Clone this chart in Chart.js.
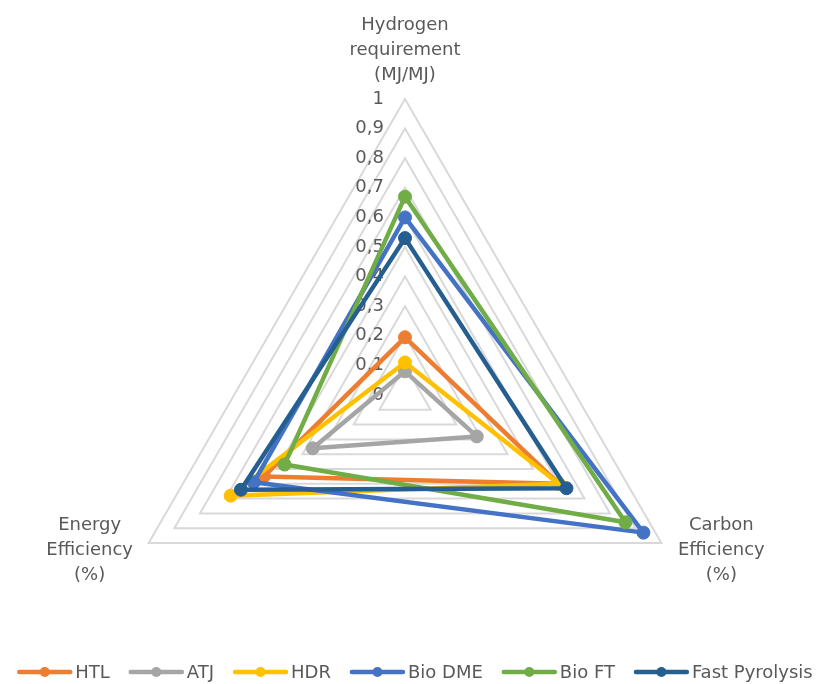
<!DOCTYPE html>
<html>
<head>
<meta charset="utf-8">
<script src="https://cdn.jsdelivr.net/npm/chart.js@4/dist/chart.umd.min.js"></script>
<style>
  html, body { margin: 0; padding: 0; background: #ffffff; }
  #wrap { width: 821px; height: 684px; position: relative; }
</style>
</head>
<body>
<div id="wrap"><canvas id="c" width="821" height="684"></canvas></div>
<script>
// ---- data ----
const categories = [
  ['Hydrogen', 'requirement', '(MJ/MJ)'],
  ['Carbon', 'Efficiency', '(%)'],
  ['Energy', 'Efficiency', '(%)']
];
const tickLabels = ['0', '0,1', '0,2', '0,3', '0,4', '0,5', '0,6', '0,7', '0,8', '0,9', '1'];
const seriesNames = ['HTL', 'ATJ', 'HDR', 'Bio DME', 'Bio FT', 'Fast Pyrolysis'];
const htl = [0.195, 0.60, 0.55];
const atj = [0.08, 0.28, 0.36];
const hdr = [0.11, 0.60, 0.68];
const bioDme = [0.60, 0.93, 0.59];
const bioFt = [0.67, 0.86, 0.47];
const fastPyrolysis = [0.53, 0.63, 0.64];

// ---- styles ----
const seriesValues = [htl, atj, hdr, bioDme, bioFt, fastPyrolysis];
const colors = ['#ED7D31', '#A5A5A5', '#FFC000', '#4472C4', '#70AD47', '#255E91'];
const TEXT = '#595959';
const FONT = '18px "DejaVu Sans", sans-serif';

const datasets = seriesNames.map((name, i) => ({
  label: name,
  data: seriesValues[i],
  borderColor: colors[i],
  backgroundColor: colors[i],
  pointBackgroundColor: colors[i],
  pointBorderColor: colors[i],
  borderWidth: 4.5,
  pointRadius: 6.5,
  pointBorderWidth: 1,
  fill: false,
  tension: 0,
  order: seriesNames.length - i
}));

const labelPlugin = {
  id: 'labelPlugin',
  beforeDatasetsDraw(chart) {
    const s = chart.scales.r;
    const ctx = chart.ctx;
    ctx.save();
    ctx.font = FONT;
    ctx.fillStyle = TEXT;
    ctx.textAlign = 'right';
    ctx.textBaseline = 'middle';
    s.ticks.forEach((t, i) => {
      const d = s.getDistanceFromCenterForValue(t.value);
      ctx.fillText(tickLabels[i] !== undefined ? tickLabels[i] : t.label, s.xCenter - 21, s.yCenter - d);
    });
    ctx.restore();
  },
  afterDraw(chart) {
    const s = chart.scales.r;
    const ctx = chart.ctx;
    ctx.save();
    ctx.font = FONT;
    ctx.fillStyle = TEXT;
    ctx.textAlign = 'center';
    ctx.textBaseline = 'middle';
    const lh = 25;
    categories.forEach((lines, i) => {
      const p = s.getPointPosition(i, s.drawingArea);
      let cx, cy;
      if (i === 0) { cx = p.x; cy = p.y - 24 - lh; }
      else if (i === 1) { cx = p.x + 60; cy = p.y + 7; }
      else { cx = p.x - 59; cy = p.y + 7; }
      lines.forEach((ln, k) => {
        ctx.fillText(ln, cx, cy + (k - (lines.length - 1) / 2) * lh);
      });
    });
    // legend
    const lineLen = 55, gapText = 3, gapItem = 19, ly = 672;
    const widths = seriesNames.map(n => ctx.measureText(n).width);
    const total = widths.reduce((a, w) => a + lineLen + gapText + w, 0) + gapItem * (seriesNames.length - 1);
    let x = 415 - total / 2;
    ctx.textAlign = 'left';
    seriesNames.forEach((n, i) => {
      ctx.strokeStyle = colors[i];
      ctx.lineWidth = 4.5;
      ctx.lineCap = 'round';
      ctx.beginPath();
      ctx.moveTo(x + 2, ly);
      ctx.lineTo(x + lineLen - 2, ly);
      ctx.stroke();
      ctx.fillStyle = colors[i];
      ctx.beginPath();
      ctx.arc(x + lineLen / 2, ly, 5, 0, Math.PI * 2);
      ctx.fill();
      ctx.fillStyle = TEXT;
      ctx.fillText(n, x + lineLen + gapText, ly + 1);
      x += lineLen + gapText + widths[i] + gapItem;
    });
    ctx.restore();
  }
};

new Chart(document.getElementById('c'), {
  type: 'radar',
  data: { labels: categories.map(c => c.join(' ')), datasets },
  options: {
    responsive: false,
    animation: false,
    events: [],
    plugins: { legend: { display: false }, tooltip: { enabled: false } },
    elements: { line: { borderJoinStyle: 'round' } },
    scales: {
      r: {
        min: 0,
        max: 1,
        ticks: { display: false, stepSize: 0.1 },
        grid: { color: '#D9D9D9', lineWidth: 2 },
        angleLines: { display: false },
        pointLabels: { display: false },
        afterFit(scale) {
          scale.xCenter = 405;
          scale.yCenter = 395;
          scale.drawingArea = 296;
        }
      }
    }
  },
  plugins: [labelPlugin]
});
</script>
</body>
</html>
